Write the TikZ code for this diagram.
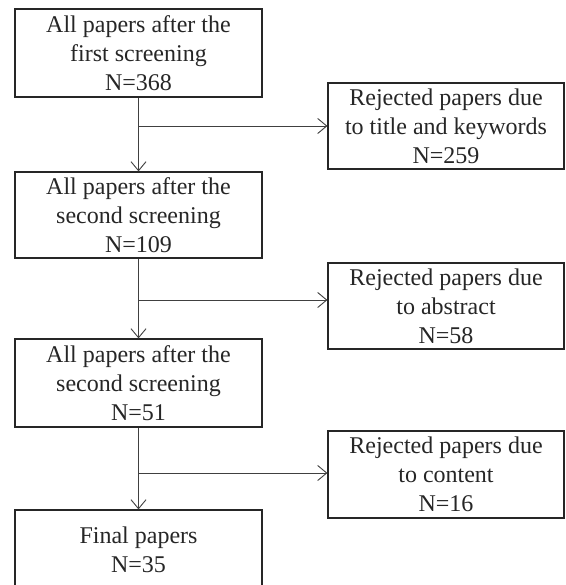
\documentclass[tikz,border=0pt]{standalone}
\usepackage{fontspec}
\setmainfont{Liberation Serif}
\usetikzlibrary{arrows.meta,positioning}
\tikzset{
  box/.style={draw=black!85, line width=1.2pt, rectangle, align=center, inner sep=0pt,
    font=\fontsize{24}{29}\selectfont, text=black!85},
  lbox/.style={box, minimum width=247pt},
  rbox/.style={box, minimum width=236pt},
  arr/.style={draw=black!75, line width=0.9pt, -{Straight Barb[length=9pt,width=15pt,line width=0.9pt]}},
  ln/.style={draw=black!75, line width=0.9pt}
}
\begin{document}
\begin{tikzpicture}[x=1pt,y=-1pt]
\useasboundingbox (0,0) rectangle (565,585);
\clip (0,0) rectangle (565,585);
\node[lbox, minimum height=88pt] (b1) at (138.5,53) {All papers after the\\first screening\\N=368};
\node[lbox, minimum height=86pt] (b2) at (138.5,215) {All papers after the\\second screening\\N=109};
\node[lbox, minimum height=88pt] (b3) at (138.5,383) {All papers after the\\second screening\\N=51};
\node[lbox, minimum height=80pt] (b4) at (138.5,550) {Final papers\\N=35};
\node[rbox, minimum height=86pt] (r1) at (446,126) {Rejected papers due\\to title and keywords\\N=259};
\node[rbox, minimum height=86pt] (r2) at (446,306) {Rejected papers due\\to abstract\\N=58};
\node[rbox, minimum height=87pt] (r3) at (446,474.5) {Rejected papers due\\to content\\N=16};
\coordinate (j1) at (138.5,126);
\coordinate (j2) at (138.5,300);
\coordinate (j3) at (138.5,473);
\draw[arr] (b1.south) -- (b2.north);
\draw[arr] (b2.south) -- (b3.north);
\draw[arr] (b3.south) -- (b4.north);
\draw[arr] (j1) -- (j1 -| r1.west);
\draw[arr] (j2) -- (j2 -| r2.west);
\draw[arr] (j3) -- (j3 -| r3.west);
\end{tikzpicture}
\end{document}
